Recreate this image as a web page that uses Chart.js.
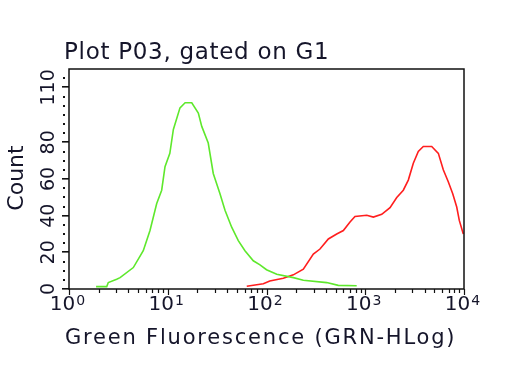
<!DOCTYPE html>
<html>
<head>
<meta charset="utf-8">
<script src="https://cdn.jsdelivr.net/npm/chart.js@4"></script>
<style>
  html, body { margin: 0; padding: 0; background: #fff; }
</style>
</head>
<body>
<canvas id="plot" width="512" height="384"></canvas>
<script>
// histogram: fluorescence (log axis) and count
const greenX = [1.88, 2.41, 2.5, 3.04, 3.29, 4.48, 5.65, 6.61, 7.73, 8.68, 9.38, 10.5, 11.4, 13.3, 15.0, 17.5, 20.4, 22.1, 25.7, 28.9, 33.8, 38.0, 44.4, 51.8, 60.5, 73.5, 85.9, 100, 127, 187, 236, 407, 533, 819];
const greenY = [1.3, 1.3, 3.5, 5.3, 6.2, 11.7, 20.9, 31.9, 46.6, 53.9, 66.7, 74, 87, 98.8, 101.6, 101.6, 96, 88.7, 79.6, 63, 52, 42.9, 33.7, 26.4, 20.9, 15.4, 13.2, 10.5, 8, 6.2, 4.8, 3.5, 2, 1.8];

const redX = [63.1, 86, 92.9, 108, 148, 187, 236, 298, 348, 423, 514, 600, 701, 787, 1035, 1208, 1469, 1782, 2084, 2429, 2729, 3067, 3445, 3872, 4710, 5498, 6170, 6930, 7690, 8440, 8960, 9840];
const redY = [1.5, 2.6, 2.9, 4.4, 5.9, 7.7, 10.8, 19, 21.8, 27.3, 30, 31.9, 36.5, 39.6, 40.2, 39.2, 40.7, 44.4, 49.9, 53.9, 59.4, 68.6, 75, 77.7, 77.7, 74, 65, 58.5, 52, 44.7, 37.4, 30];

const yLabels = [0, 20, 40, 60, 80, 110];
const xDecades = [0, 1, 2, 3, 4];

const titleText = 'Plot P03, gated on G1';
const xTitle = 'Green Fluorescence (GRN-HLog)';
const yTitle = 'Count';

const FONT = '"DejaVu Sans", Verdana, sans-serif';
const INK = '#15152a';

function toPoints(xs, ys) {
  return xs.map((x, i) => ({ x: x, y: ys[i] }));
}

// frame, ticks and all the text are drawn here
const decorations = {
  id: 'decorations',
  afterDraw(chart) {
    const ctx = chart.ctx;
    const area = chart.chartArea;
    const xs = chart.scales.x;
    const ys = chart.scales.y;
    ctx.save();

    ctx.strokeStyle = '#111';
    ctx.lineWidth = 1.5;
    ctx.strokeRect(area.left, area.top, area.right - area.left, area.bottom - area.top);

    // x ticks, log decades with minor ticks 2..9
    ctx.lineWidth = 1.2;
    xDecades.forEach(d => {
      for (let m = 1; m <= 9; m++) {
        if (d === 4 && m > 1) break;
        const px = Math.round(xs.getPixelForValue(m * Math.pow(10, d))) + 0.5;
        const len = m === 1 ? 6 : 4;
        ctx.beginPath();
        ctx.moveTo(px, area.bottom);
        ctx.lineTo(px, area.bottom + len);
        ctx.stroke();
      }
    });

    // y ticks every 5, longer where labelled
    ctx.fillStyle = '#111';
    for (let v = 0; v < 120; v += 5) {
      const py = Math.round(ys.getPixelForValue(v));
      if (yLabels.includes(v)) {
        ctx.fillRect(area.left - 7, py - 1, 7, 1.6);
      } else {
        ctx.fillRect(area.left - 6, py - 1, 2, 2);
      }
    }

    ctx.fillStyle = INK;
    ctx.textBaseline = 'alphabetic';

    // x tick labels: 10 with superscript exponent
    xDecades.forEach(d => {
      const px = xs.getPixelForValue(Math.pow(10, d));
      ctx.font = '20px ' + FONT;
      const wBase = ctx.measureText('10').width;
      ctx.font = '14px ' + FONT;
      const wExp = ctx.measureText(String(d)).width;
      const start = px - (wBase + wExp) / 2 - 2;
      ctx.font = '20px ' + FONT;
      ctx.textAlign = 'left';
      ctx.fillText('10', start, 310);
      ctx.font = '14px ' + FONT;
      ctx.fillText(String(d), start + wBase + 1, 305);
    });

    // y tick labels, rotated
    ctx.font = '19px ' + FONT;
    ctx.textAlign = 'center';
    yLabels.forEach(v => {
      const py = ys.getPixelForValue(v);
      ctx.save();
      ctx.translate(54, py);
      ctx.rotate(-Math.PI / 2);
      ctx.fillText(String(v), 0, 0);
      ctx.restore();
    });

    // titles
    ctx.font = '23px ' + FONT;
    ctx.textAlign = 'left';
    ctx.letterSpacing = '0.7px';
    ctx.fillText(titleText, 64, 59);

    ctx.font = '21px ' + FONT;
    ctx.letterSpacing = '1.8px';
    ctx.fillText(xTitle, 65, 344);
    ctx.letterSpacing = '0px';

    ctx.save();
    ctx.translate(23, 178);
    ctx.rotate(-Math.PI / 2);
    ctx.font = '22px ' + FONT;
    ctx.textAlign = 'center';
    ctx.fillText(yTitle, 0, 0);
    ctx.restore();

    ctx.restore();
  }
};

new Chart(document.getElementById('plot'), {
  type: 'line',
  data: {
    datasets: [
      {
        label: 'G1',
        data: toPoints(greenX, greenY),
        borderColor: '#5ee82c',
        borderWidth: 1.6,
        pointRadius: 0,
        tension: 0
      },
      {
        label: 'P03',
        data: toPoints(redX, redY),
        borderColor: '#ff1e1e',
        borderWidth: 1.6,
        pointRadius: 0,
        tension: 0
      }
    ]
  },
  options: {
    responsive: false,
    animation: false,
    devicePixelRatio: 1,
    layout: { padding: { top: 69, right: 48, left: 0, bottom: 0 } },
    plugins: {
      legend: { display: false },
      tooltip: { enabled: false }
    },
    scales: {
      x: {
        type: 'logarithmic',
        min: 1,
        max: 10000,
        ticks: { display: false },
        grid: { display: false },
        border: { display: false },
        afterFit: s => { s.height = 95; }
      },
      y: {
        min: 0,
        max: 120,
        ticks: { display: false },
        grid: { display: false },
        border: { display: false },
        afterFit: s => { s.width = 69; }
      }
    }
  },
  plugins: [decorations]
});
</script>
</body>
</html>
